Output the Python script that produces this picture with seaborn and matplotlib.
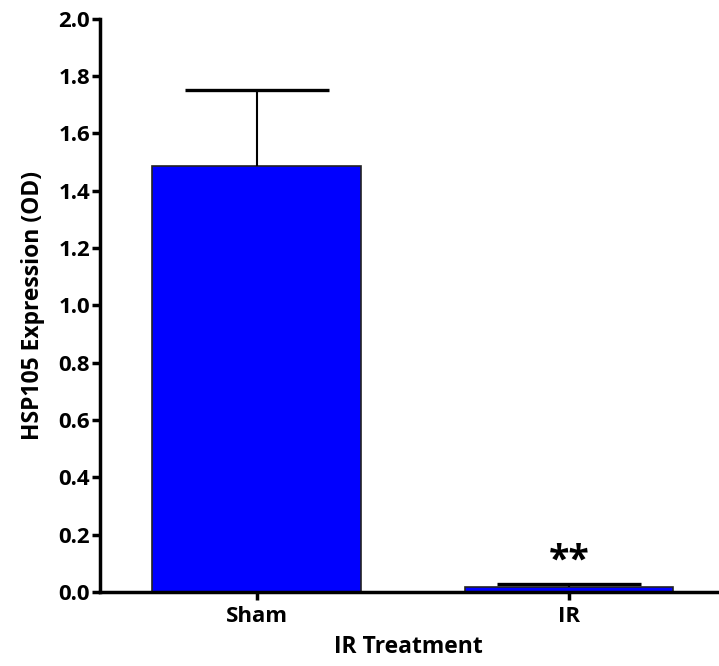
import matplotlib
matplotlib.use("Agg")
import matplotlib.pyplot as plt
import seaborn as sns
import pandas as pd
import numpy as np

# === Data ===
groups = ["Sham", "IR"]
means = [1.487, 0.018]
sems = [0.263, 0.010]
y_ticks = [0.0, 0.2, 0.4, 0.6, 0.8, 1.0, 1.2, 1.4, 1.6, 1.8, 2.0]

sns.set_style("ticks")
plt.rcParams['font.family'] = ['Open Sans', 'DejaVu Sans']
plt.rcParams['font.weight'] = 'bold'
plt.rcParams['text.color'] = 'black'
plt.rcParams['axes.labelcolor'] = 'black'
plt.rcParams['xtick.color'] = 'black'
plt.rcParams['ytick.color'] = 'black'

df = pd.DataFrame({"group": groups, "value": means})

fig = plt.figure(figsize=(7.19, 6.66), dpi=100)
ax = fig.add_axes([0.139, 0.111, 0.859, 0.861])

sns.barplot(data=df, x="group", y="value", order=groups, color="#0000FF",
            saturation=1, width=0.668, edgecolor="#222222", linewidth=1.2,
            errorbar=None, ax=ax)

# upper-only error bars
_, caps, _ = ax.errorbar(range(len(groups)), means,
                         yerr=[np.zeros(len(sems)), sems],
                         fmt="none", ecolor="black", elinewidth=1.5,
                         capsize=52, capthick=2.4)
# hide the cap at the lower end (sits on the bar top)
for cl in caps:
    if np.allclose(cl.get_ydata(), means):
        cl.set_visible(False)

# significance mark
ax.text(1, means[1] + sems[1] + 0.012, "**", ha="center", va="bottom",
        fontsize=27, fontweight="bold", color="black")

ax.set_xlim(-0.502, 1.476)
ax.set_ylim(0, 2.0)
ax.set_yticks(y_ticks)
ax.set_yticklabels([f"{t:.1f}" for t in y_ticks], fontsize=16, fontweight="bold")
ax.set_xticks(range(len(groups)))
ax.set_xticklabels(groups, fontsize=16, fontweight="bold")
ax.set_xlabel("IR Treatment", fontsize=16.5, fontweight="bold", labelpad=6)
ax.set_ylabel("HSP105 Expression (OD)", fontsize=16.5, fontweight="bold", labelpad=10)

for side in ["top", "right"]:
    ax.spines[side].set_visible(False)
for side in ["left", "bottom"]:
    ax.spines[side].set_linewidth(2.5)
    ax.spines[side].set_color("black")
ax.tick_params(axis="y", width=2.5, length=6, color="black", pad=1)
ax.tick_params(axis="x", width=2.5, length=6, color="black", pad=4)

plt.savefig("out.png", dpi=100)
plt.close()
